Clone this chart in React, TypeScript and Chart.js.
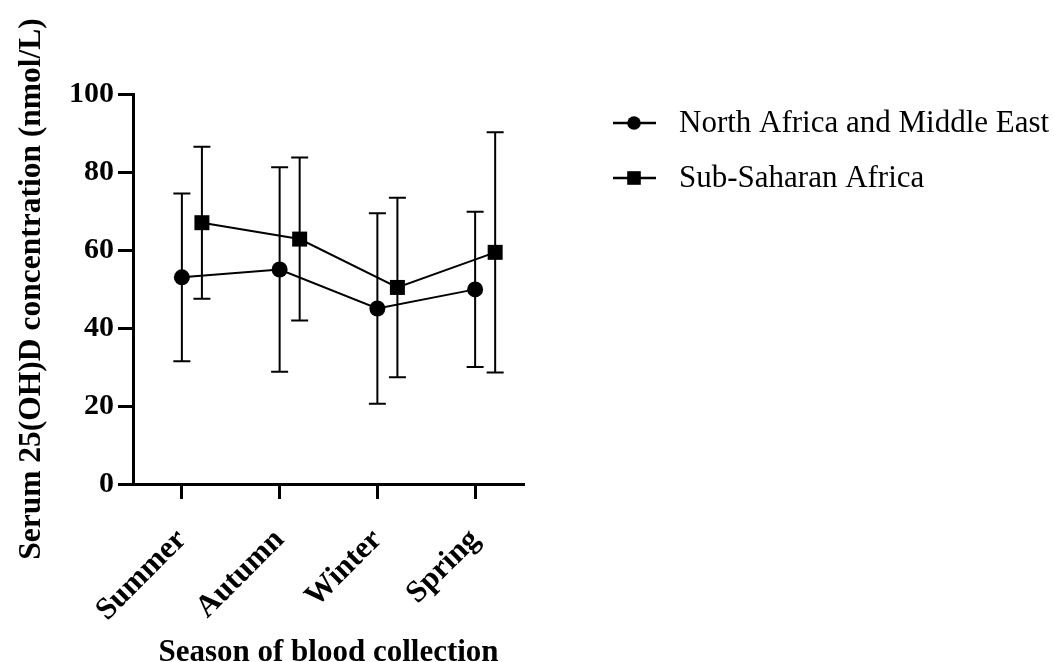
import React, { useEffect, useRef } from "react";
import { Chart, registerables } from "chart.js";

Chart.register(...registerables);

const SEASONS = ["Summer", "Autumn", "Winter", "Spring"];
const SERIES_NAMES = ["North Africa and Middle East", "Sub-Saharan Africa"];
const NAME_MEAN = [53.0, 55.0, 45.0, 49.9];
const NAME_SD = [21.5, 26.2, 24.4, 19.9];
const SSA_MEAN = [67.0, 62.8, 50.4, 59.4];
const SSA_SD = [19.5, 20.9, 23.0, 30.8];
const Y_TICKS = [0, 20, 40, 60, 80, 100];

const SERIES_X_OFFSET = [0, 0.205];
const FONT_FAMILY = '"Liberation Serif", "Times New Roman", serif';

const errorBarPlugin = {
  id: "errorBars",
  beforeDatasetsDraw(chart: any) {
    const ctx = chart.ctx;
    const yScale = chart.scales.y;
    const sds = [NAME_SD, SSA_SD];
    const means = [NAME_MEAN, SSA_MEAN];
    ctx.save();
    ctx.strokeStyle = "#000";
    ctx.lineWidth = 2;
    chart.data.datasets.forEach((_: any, di: number) => {
      const meta = chart.getDatasetMeta(di);
      meta.data.forEach((pt: any, i: number) => {
        const hi = yScale.getPixelForValue(means[di][i] + sds[di][i]);
        const lo = yScale.getPixelForValue(means[di][i] - sds[di][i]);
        const x = pt.x;
        ctx.beginPath();
        ctx.moveTo(x, hi);
        ctx.lineTo(x, lo);
        ctx.moveTo(x - 8.5, hi);
        ctx.lineTo(x + 8.5, hi);
        ctx.moveTo(x - 8.5, lo);
        ctx.lineTo(x + 8.5, lo);
        ctx.stroke();
      });
    });
    ctx.restore();
  },
};

const legendPlugin = {
  id: "customLegend",
  afterDraw(chart: any) {
    const ctx = chart.ctx;
    const x0 = 613;
    const rows = [123, 178];
    ctx.save();
    ctx.fillStyle = "#000";
    ctx.strokeStyle = "#000";
    ctx.font = `31px ${FONT_FAMILY}`;
    ctx.textBaseline = "middle";
    SERIES_NAMES.forEach((name, i) => {
      const y = rows[i];
      ctx.lineWidth = 2.5;
      ctx.beginPath();
      ctx.moveTo(x0, y);
      ctx.lineTo(x0 + 43, y);
      ctx.stroke();
      if (i === 0) {
        ctx.beginPath();
        ctx.arc(x0 + 21, y, 6.8, 0, Math.PI * 2);
        ctx.fill();
      } else {
        ctx.fillRect(x0 + 21 - 6.8, y - 6.8, 13.6, 13.6);
      }
      ctx.fillText(name, 679, y + 1);
    });
    ctx.restore();
  },
};

export default function App() {
  const canvasRef = useRef<HTMLCanvasElement | null>(null);

  useEffect(() => {
    document.body.style.margin = "0";
    const canvas = canvasRef.current;
    if (!canvas) return;
    const mk = (means: number[], off: number) =>
      means.map((v, i) => ({ x: i + off, y: v }));
    const chart = new Chart(canvas, {
      type: "line",
      data: {
        datasets: [
          {
            label: SERIES_NAMES[0],
            data: mk(NAME_MEAN, SERIES_X_OFFSET[0]),
            borderColor: "#000",
            backgroundColor: "#000",
            borderWidth: 2,
            pointStyle: "circle",
            pointRadius: 8,
            pointBackgroundColor: "#000",
            pointBorderWidth: 0,
            tension: 0,
          },
          {
            label: SERIES_NAMES[1],
            data: mk(SSA_MEAN, SERIES_X_OFFSET[1]),
            borderColor: "#000",
            backgroundColor: "#000",
            borderWidth: 2,
            pointStyle: "rect",
            pointRadius: 10.6,
            pointBackgroundColor: "#000",
            pointBorderWidth: 0,
            tension: 0,
          },
        ],
      },
      options: {
        responsive: false,
        animation: false,
        events: [],
        layout: { padding: { top: 94, right: 530, left: 0, bottom: 0 } },
        plugins: { legend: { display: false }, tooltip: { enabled: false } },
        scales: {
          x: {
            type: "linear",
            min: -0.5,
            max: 3.5,
            afterBuildTicks: (axis: any) => {
              axis.ticks = SEASONS.map((_, i) => ({ value: i }));
            },
            afterFit: (scale: any) => {
              scale.height = 178;
            },
            ticks: {
              autoSkip: false,
              maxRotation: 45,
              minRotation: 45,
              padding: 23,
              color: "#000",
              font: { family: FONT_FAMILY, size: 31, weight: "bold" },
              callback: (v: any) => SEASONS[v] ?? "",
            },
            grid: {
              display: true,
              drawOnChartArea: false,
              drawTicks: true,
              tickLength: 15,
              tickWidth: 3,
              tickColor: "#000",
            },
            border: { display: true, color: "#000", width: 3 },
            title: {
              display: true,
              text: "Season of blood collection",
              color: "#000",
              font: { family: FONT_FAMILY, size: 31, weight: "bold", lineHeight: 0.58 },
              padding: { top: 0, bottom: 0 },
            },
          },
          y: {
            type: "linear",
            min: 0,
            max: 100,
            afterBuildTicks: (axis: any) => {
              axis.ticks = Y_TICKS.map((v) => ({ value: v }));
            },
            afterFit: (scale: any) => {
              scale.width = 133;
            },
            ticks: {
              padding: 4,
              color: "#000",
              font: { family: FONT_FAMILY, size: 30, weight: "bold" },
            },
            grid: {
              display: true,
              drawOnChartArea: false,
              drawTicks: true,
              tickLength: 15,
              tickWidth: 3,
              tickColor: "#000",
            },
            border: { display: true, color: "#000", width: 3 },
            title: {
              display: true,
              text: "Serum 25(OH)D concentration (nmol/L)",
              color: "#000",
              font: { family: FONT_FAMILY, size: 31.5, weight: "bold", lineHeight: 1.2 },
              padding: { top: 13, bottom: 0 },
            },
          },
        },
      },
      plugins: [errorBarPlugin, legendPlugin],
    } as any);
    return () => chart.destroy();
  }, []);

  return (
    <div style={{ width: 1054, height: 662, position: "relative", background: "#fff" }}>
      <canvas ref={canvasRef} width={1054} height={662} style={{ display: "block" }} />
    </div>
  );
}
